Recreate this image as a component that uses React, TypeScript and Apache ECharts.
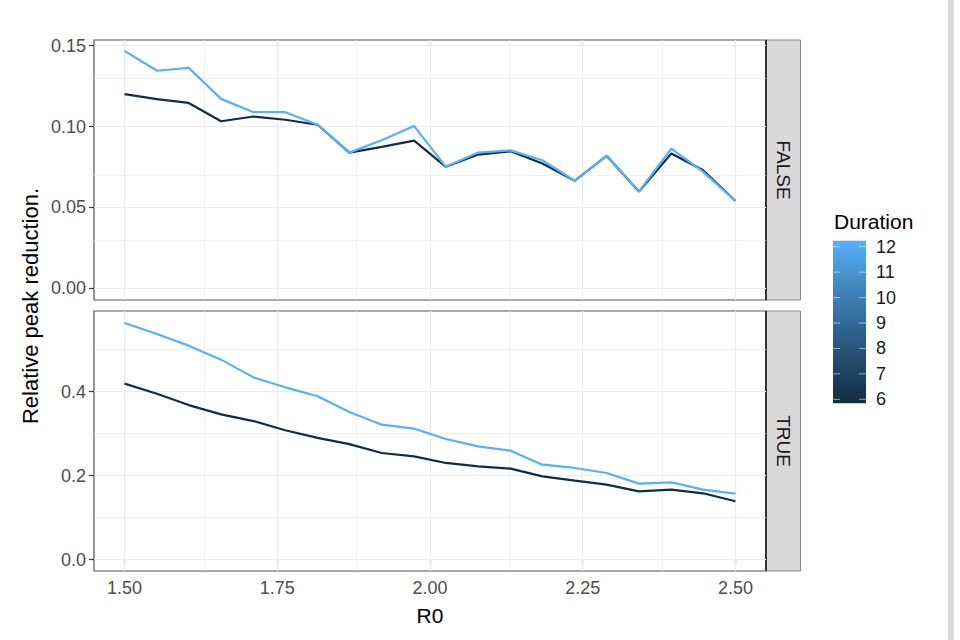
import React, { useEffect, useRef } from "react";
import * as echarts from "echarts";

const R0 = [1.5, 1.553, 1.605, 1.658, 1.711, 1.763, 1.816, 1.868, 1.921, 1.974, 2.026, 2.079, 2.132, 2.184, 2.237, 2.289, 2.342, 2.395, 2.447, 2.5];
const falseDur6 = [0.12, 0.117, 0.1146, 0.1033, 0.1062, 0.1042, 0.1011, 0.0839, 0.0874, 0.0913, 0.0751, 0.0827, 0.0847, 0.0772, 0.0665, 0.0819, 0.0598, 0.0833, 0.073, 0.054];
const falseDur12 = [0.1468, 0.1345, 0.1363, 0.1171, 0.1089, 0.1089, 0.1011, 0.0839, 0.0915, 0.1003, 0.0751, 0.0839, 0.0853, 0.0792, 0.0665, 0.0819, 0.0598, 0.0864, 0.072, 0.054];
const trueDur6 = [0.419, 0.395, 0.368, 0.346, 0.33, 0.308, 0.29, 0.275, 0.254, 0.246, 0.2302, 0.222, 0.2167, 0.1984, 0.188, 0.1786, 0.1627, 0.1667, 0.158, 0.139];
const trueDur12 = [0.5636, 0.5373, 0.5095, 0.4762, 0.434, 0.4103, 0.3889, 0.3516, 0.3214, 0.3119, 0.2873, 0.2698, 0.2595, 0.2262, 0.2183, 0.2064, 0.181, 0.184, 0.1667, 0.1571];

const xTicks = [1.5, 1.75, 2.0, 2.25, 2.5];
const xMinor = [1.625, 1.875, 2.125, 2.375];
const topTicks = [0, 0.05, 0.1, 0.15];
const topMinor = [0.025, 0.075, 0.125];
const botTicks = [0, 0.2, 0.4];
const botMinor = [0.1, 0.3, 0.5];
const facets = ["FALSE", "TRUE"];
const durationTicks = [12, 11, 10, 9, 8, 7, 6];

const LOW = "#132B43";
const HIGH = "#56B1F7";
const FONT = "Liberation Sans, Arial, sans-serif";

function pairs(vals: number[]) {
  return vals.map((v, i) => [R0[i], v]);
}

function gridLines(yMajor: number[], yMinor: number[]) {
  const d: any[] = [];
  xTicks.forEach((v) => d.push({ xAxis: v, lineStyle: { width: 1.2, color: "#ebebeb" } }));
  xMinor.forEach((v) => d.push({ xAxis: v, lineStyle: { width: 0.7, color: "#ebebeb" } }));
  yMajor.forEach((v) => d.push({ yAxis: v, lineStyle: { width: 1.2, color: "#ebebeb" } }));
  yMinor.forEach((v) => d.push({ yAxis: v, lineStyle: { width: 0.7, color: "#ebebeb" } }));
  return {
    silent: true,
    symbol: "none",
    label: { show: false },
    lineStyle: { type: "solid" },
    data: d,
  };
}

export default function App() {
  const ref = useRef<HTMLDivElement>(null);
  useEffect(() => {
    if (!ref.current) return;
    const chart = echarts.init(ref.current, null, { renderer: "svg" });
    const gTop = { left: 94, top: 40, width: 672, height: 260 };
    const gBot = { left: 94, top: 311, width: 672, height: 260 };
    const axisLabelStyle = { color: "#4d4d4d", fontSize: 18, fontFamily: FONT };
    const stripX = gTop.left + gTop.width;
    const barTop = 240.7;
    const barBot = 403.3;
    const tickTop = 246.7;
    const tickBot = 399.3;
    const step = (tickBot - tickTop) / (durationTicks.length - 1);

    const legendEls: any[] = [];
    legendEls.push({
      type: "rect",
      shape: { x: 833, y: barTop, width: 33, height: barBot - barTop },
      style: {
        fill: {
          type: "linear", x: 0, y: 0, x2: 0, y2: 1,
          colorStops: [
            { offset: 0, color: HIGH },
            { offset: 0.25, color: "#448CC7" },
            { offset: 0.5, color: "#336A98" },
            { offset: 0.75, color: "#234A6D" },
            { offset: 1, color: LOW },
          ],
        },
      },
    });
    durationTicks.forEach((d, i) => {
      const y = tickTop + i * step;
      legendEls.push({ type: "line", shape: { x1: 833, y1: y, x2: 840, y2: y }, style: { stroke: "rgba(255,255,255,0.55)", lineWidth: 1 } });
      legendEls.push({ type: "line", shape: { x1: 859, y1: y, x2: 866, y2: y }, style: { stroke: "rgba(255,255,255,0.55)", lineWidth: 1 } });
      legendEls.push({
        type: "text", x: 876, y,
        style: { text: String(d), fill: "#1a1a1a", fontSize: 18, fontFamily: FONT, verticalAlign: "middle", align: "left" },
      });
    });

    const grids = [gTop, gBot];
    const stripEls: any[] = [];
    grids.forEach((g, i) => {
      stripEls.push({
        type: "rect",
        shape: { x: stripX, y: g.top, width: 34.5, height: g.height },
        style: { fill: "#d9d9d9", stroke: "#8a8a8a", lineWidth: 1 },
      });
      stripEls.push({
        type: "line",
        shape: { x1: stripX, y1: g.top, x2: stripX, y2: g.top + g.height },
        style: { stroke: "#333", lineWidth: 2 },
      });
      stripEls.push({
        type: "text",
        x: stripX + 17.5,
        y: g.top + g.height / 2,
        rotation: -Math.PI / 2,
        style: { text: facets[i], fill: "#1a1a1a", fontSize: 19, fontFamily: FONT, align: "center", verticalAlign: "middle" },
      });
    });

    const option: any = {
      animation: false,
      backgroundColor: "#ffffff",
      grid: [
        { ...gTop, show: true, borderColor: "#555", borderWidth: 1.2, backgroundColor: "#fff" },
        { ...gBot, show: true, borderColor: "#555", borderWidth: 1.2, backgroundColor: "#fff" },
      ],
      xAxis: [
        {
          type: "value", gridIndex: 0, min: 1.45, max: 2.55,
          axisLine: { show: false }, axisTick: { show: false }, axisLabel: { show: false }, splitLine: { show: false },
        },
        {
          type: "value", gridIndex: 1, min: 1.45, max: 2.55,
          axisLine: { show: false },
          axisTick: { show: true, customValues: xTicks, length: 5, lineStyle: { color: "#333", width: 1.2 } },
          axisLabel: { show: true, customValues: xTicks, formatter: (v: number) => v.toFixed(2), margin: 8, ...axisLabelStyle },
          splitLine: { show: false },
        },
      ],
      yAxis: [
        {
          type: "value", gridIndex: 0, min: -0.0072, max: 0.1535,
          axisLine: { show: false },
          axisTick: { show: true, customValues: topTicks, length: 5, lineStyle: { color: "#333", width: 1.2 } },
          axisLabel: { show: true, customValues: topTicks, formatter: (v: number) => v.toFixed(2), margin: 8, ...axisLabelStyle },
          splitLine: { show: false },
        },
        {
          type: "value", gridIndex: 1, min: -0.027, max: 0.592,
          axisLine: { show: false },
          axisTick: { show: true, customValues: botTicks, length: 5, lineStyle: { color: "#333", width: 1.2 } },
          axisLabel: { show: true, customValues: botTicks, formatter: (v: number) => v.toFixed(1), margin: 8, ...axisLabelStyle },
          splitLine: { show: false },
        },
      ],
      series: [
        { type: "line", name: "gridTop", xAxisIndex: 0, yAxisIndex: 0, data: [], z: 1, markLine: gridLines(topTicks, topMinor) },
        { type: "line", name: "gridBot", xAxisIndex: 1, yAxisIndex: 1, data: [], z: 1, markLine: gridLines(botTicks, botMinor) },
        { type: "line", name: "6", xAxisIndex: 0, yAxisIndex: 0, data: pairs(falseDur6), showSymbol: false, z: 10, lineStyle: { color: LOW, width: 2.2 } },
        { type: "line", name: "12", xAxisIndex: 0, yAxisIndex: 0, data: pairs(falseDur12), showSymbol: false, z: 11, lineStyle: { color: HIGH, width: 2.2 } },
        { type: "line", name: "6", xAxisIndex: 1, yAxisIndex: 1, data: pairs(trueDur6), showSymbol: false, z: 10, lineStyle: { color: LOW, width: 2.2 } },
        { type: "line", name: "12", xAxisIndex: 1, yAxisIndex: 1, data: pairs(trueDur12), showSymbol: false, z: 11, lineStyle: { color: HIGH, width: 2.2 } },
      ],
      graphic: [
        ...stripEls,
        {
          type: "text", x: 30, y: 306, rotation: Math.PI / 2,
          style: { text: "Relative peak reduction.", fill: "#000", fontSize: 22, fontFamily: FONT, align: "center", verticalAlign: "middle" },
        },
        {
          type: "text", x: 430, y: 615,
          style: { text: "R0", fill: "#000", fontSize: 21, fontFamily: FONT, align: "center", verticalAlign: "middle" },
        },
        {
          type: "text", x: 834, y: 221.5,
          style: { text: "Duration", fill: "#000", fontSize: 21, fontFamily: FONT, align: "left", verticalAlign: "middle" },
        },
        ...legendEls,
        { type: "rect", shape: { x: 948, y: 0, width: 6, height: 640 }, style: { fill: "#d9d9d9" } },
      ],
    };
    chart.setOption(option);
    return () => chart.dispose();
  }, []);
  return <div ref={ref} style={{ position: "fixed", left: 0, top: 0, width: 960, height: 640 }} />;
}
